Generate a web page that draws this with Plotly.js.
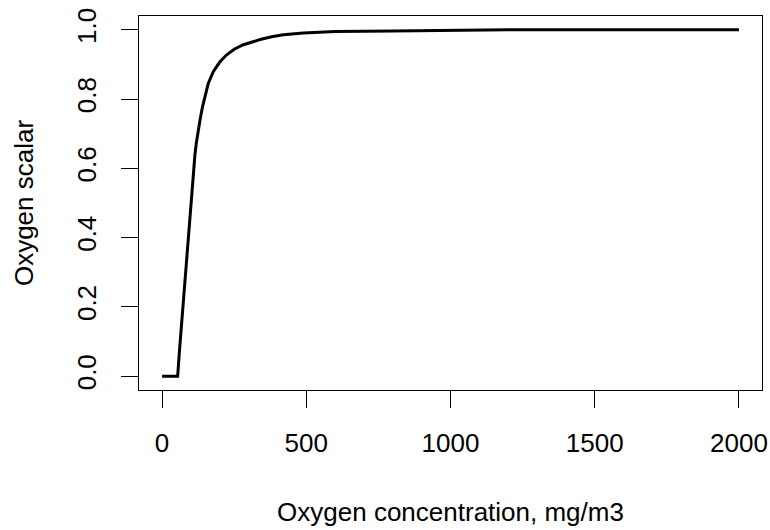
<!DOCTYPE html>
<html>
<head>
<meta charset="utf-8">
<script src="https://cdn.plot.ly/plotly-3.0.1.min.js"></script>
<style>html,body{margin:0;padding:0;background:#fff;}#chart{width:770px;height:530px;}</style>
</head>
<body>
<div id="chart"></div>
<script>
// Oxygen concentration (mg/m3)
const oxygenConc = [0, 54, 60, 69, 77, 86, 94, 103, 109, 114, 119, 124, 132, 140, 149, 160, 178, 200, 224, 250, 282, 310, 340, 380, 420, 490, 600, 800, 1000, 1010, 1200, 1500, 2000];
// Oxygen scalar values
const oxygenScalar = [0, 0, 0.07, 0.165, 0.26, 0.36, 0.455, 0.55, 0.60, 0.64, 0.675, 0.705, 0.742, 0.777, 0.812, 0.845, 0.88, 0.907, 0.928, 0.944, 0.957, 0.965, 0.972, 0.980, 0.986, 0.991, 0.995, 0.997, 0.998, 1.0, 1.0, 1.0, 1.0];
const xTicks = [0, 500, 1000, 1500, 2000];
const yTicks = [0, 0.2, 0.4, 0.6, 0.8, 1.0];
const yTickText = ['0.0', '0.2', '0.4', '0.6', '0.8', '1.0'];

const font = {family: 'Liberation Sans, Arial, sans-serif', size: 26, color: '#000'};

const trace = {
  x: oxygenConc,
  y: oxygenScalar,
  type: 'scatter',
  mode: 'lines',
  line: {color: '#000', width: 3},
  hoverinfo: 'x+y'
};

const layout = {
  width: 770,
  height: 530,
  margin: {l: 139, r: 8, t: 16, b: 140},
  paper_bgcolor: '#fff',
  plot_bgcolor: '#fff',
  font: font,
  showlegend: false,
  xaxis: {
    range: [-80, 2080],
    tickvals: xTicks,
    ticktext: xTicks.map(String),
    ticks: 'outside',
    ticklen: 17,
    tickwidth: 1,
    tickcolor: '#000',
    showline: true,
    mirror: true,
    linecolor: '#000',
    linewidth: 1,
    showgrid: false,
    zeroline: false,
    ticklabelstandoff: 13,
    tickfont: font,
    automargin: false,
    title: {text: 'Oxygen concentration, mg/m3', font: font, standoff: 45}
  },
  yaxis: {
    range: [-0.04, 1.04],
    tickvals: yTicks,
    ticktext: yTickText,
    tickangle: -90,
    ticks: 'outside',
    ticklen: 17,
    tickwidth: 1,
    tickcolor: '#000',
    showline: true,
    mirror: true,
    linecolor: '#000',
    linewidth: 1,
    showgrid: false,
    zeroline: false,
    ticklabelstandoff: 15,
    tickfont: font,
    automargin: false,
    title: {text: 'Oxygen scalar', font: font, standoff: 30}
  }
};

Plotly.newPlot('chart', [trace], layout, {displayModeBar: false, staticPlot: true});
</script>
</body>
</html>
